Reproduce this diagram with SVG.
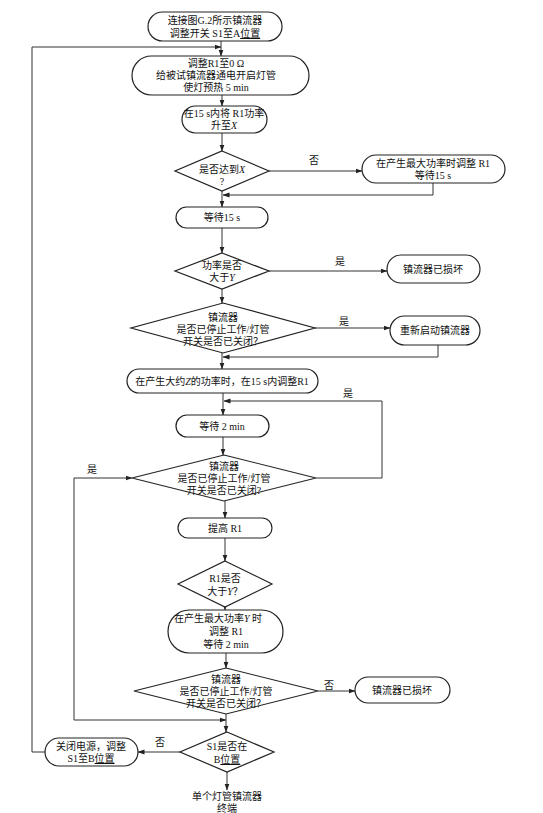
<svg xmlns="http://www.w3.org/2000/svg" width="543" height="813" viewBox="0 0 543 813">
<defs>
<marker id="ah" markerWidth="7" markerHeight="6" refX="6.5" refY="3" orient="auto" markerUnits="userSpaceOnUse">
<path d="M0,0.5 L7,3 L0,5.5 z" fill="#222"/>
</marker>
<style>
.n{fill:#fff;stroke:#222;stroke-width:1.2}
.t{font-family:"Liberation Serif","Noto Sans CJK SC",serif;font-size:10px;fill:#111;text-anchor:middle}
.c{fill:none;stroke:#333;stroke-width:1;marker-end:url(#ah)}
.p{fill:none;stroke:#333;stroke-width:1}
.i{font-style:italic}
.u{text-decoration:underline}
</style>
</defs>
<rect width="543" height="813" fill="#fff"/>
<g id="connectors">
<path class="c" d="M221,41 V56"/>
<path class="c" d="M45,752 H32 V47 H221"/>
<path class="c" d="M222,95 V106"/>
<path class="c" d="M222,133 V151"/>
<path class="c" d="M269,171 H362"/>
<path class="c" d="M433,183 V195 H223"/>
<path class="c" d="M222,191 V207"/>
<path class="c" d="M222,228 V253"/>
<path class="c" d="M269,271 H387"/>
<path class="c" d="M222,289 V303"/>
<path class="c" d="M315,328 H390"/>
<path class="c" d="M438,345 V357 H223"/>
<path class="c" d="M222,353 V369"/>
<path class="c" d="M223,393 V415"/>
<path class="c" d="M316,478 H382 V401 H224"/>
<path class="c" d="M223,437 V455"/>
<path class="c" d="M74,478 H132"/>
<path class="c" d="M74,478 V720 H226"/>
<path class="c" d="M225,501 V518"/>
<path class="c" d="M225,538 V561"/>
<path class="c" d="M225,607 V610"/>
<path class="c" d="M226,653 V668"/>
<path class="c" d="M318,691 H355"/>
<path class="c" d="M226,714 V732"/>
<path class="c" d="M180,752 H138"/>
<path class="c" d="M227,772 V790"/>
<text class="t" x="314" y="164">否</text>
<text class="t" x="340" y="265">是</text>
<text class="t" x="344" y="325">是</text>
<text class="t" x="348" y="397">是</text>
<text class="t" x="92" y="473">是</text>
<text class="t" x="329" y="689">否</text>
<text class="t" x="160" y="746">否</text>
</g>
<g id="n1"><rect class="n" x="148" y="12" width="134" height="29" rx="14.5"/>
<text class="t" x="215" y="24">连接图G.2所示镇流器</text>
<text class="t" x="215" y="37">调整开关 S1至A<tspan class="u">位置</tspan></text></g>
<g id="n2"><rect class="n" x="132" y="56" width="177" height="39" rx="19.5"/>
<text class="t" x="216" y="67">调整R1至0 Ω</text>
<text class="t" x="216" y="79">给被试镇流器通电开启灯管</text>
<text class="t" x="216" y="91">使灯预热 5  min</text></g>
<g id="n3"><rect class="n" x="182" y="106" width="85" height="27" rx="13.5"/>
<text class="t" x="224" y="117">在15 s内将 R1功率</text>
<text class="t" x="224" y="129">升至<tspan class="i">X</tspan></text></g>
<g id="d1"><polygon class="n" points="222,151 269,171 222,191 175,171"/>
<text class="t" x="222" y="173">是否达到<tspan class="i">X</tspan></text>
<text class="t" x="222" y="185">?</text></g>
<g id="n4"><rect class="n" x="362" y="155" width="143" height="28" rx="14"/>
<text class="t" x="433" y="167">在产生最大功率时调整 R1</text>
<text class="t" x="433" y="179">等待15 s</text></g>
<g id="n5"><rect class="n" x="176" y="207" width="92" height="21" rx="10.5"/>
<text class="t" x="222" y="221">等待15 s</text></g>
<g id="d2"><polygon class="n" points="222,253 269,271 222,289 175,271"/>
<text class="t" x="222" y="269">功率是否</text>
<text class="t" x="222" y="281">大于<tspan class="i">Y</tspan></text></g>
<g id="n6"><rect class="n" x="387" y="255" width="93" height="28" rx="14"/>
<text class="t" x="433" y="273">镇流器已损坏</text></g>
<g id="d3"><polygon class="n" points="223,303 315,328 223,353 131,328"/>
<text class="t" x="223" y="321">镇流器</text>
<text class="t" x="223" y="333">是否已停止工作/灯管</text>
<text class="t" x="223" y="345">开关是否已关闭？</text></g>
<g id="n7"><rect class="n" x="390" y="316" width="90" height="29" rx="14.5"/>
<text class="t" x="435" y="334">重新启动镇流器</text></g>
<g id="n8"><rect class="n" x="127" y="369" width="191" height="24" rx="12"/>
<text class="t" x="222" y="385">在产生大约<tspan class="i">Z</tspan>的功率时，在15 s内调整R1</text></g>
<g id="n9"><rect class="n" x="176" y="415" width="93" height="22" rx="11"/>
<text class="t" x="222" y="430">等待 2 min</text></g>
<g id="d4"><polygon class="n" points="224,455 316,478 224,501 132,478"/>
<text class="t" x="224" y="470">镇流器</text>
<text class="t" x="224" y="482">是否已停止工作/灯管</text>
<text class="t" x="224" y="494">开关是否已关闭?</text></g>
<g id="n10"><rect class="n" x="178" y="518" width="94" height="20" rx="10"/>
<text class="t" x="225" y="532">提高 R1</text></g>
<g id="d5"><polygon class="n" points="225,561 272,584 225,607 178,584"/>
<text class="t" x="225" y="582">R1是否</text>
<text class="t" x="225" y="595">大于<tspan class="i">Y</tspan>？</text></g>
<g id="n11"><rect class="n" x="168" y="610" width="115" height="43" rx="21.5"/>
<text class="t" x="218" y="622">在产生最大功率<tspan class="i">Y</tspan> 时</text>
<text class="t" x="226" y="635">调整 R1</text>
<text class="t" x="226" y="648">等待 2 min</text></g>
<g id="d6"><polygon class="n" points="226,668 318,691 226,714 134,691"/>
<text class="t" x="226" y="683">镇流器</text>
<text class="t" x="226" y="695">是否已停止工作/灯管</text>
<text class="t" x="226" y="707">开关是否已关闭？</text></g>
<g id="n12"><rect class="n" x="355" y="677" width="95" height="26" rx="13"/>
<text class="t" x="402" y="694">镇流器已损坏</text></g>
<g id="d7"><polygon class="n" points="227,732 274,752 227,772 180,752"/>
<text class="t" x="227" y="750">S1是否在</text>
<text class="t" x="227" y="763">B<tspan class="u">位置</tspan></text></g>
<g id="n13"><rect class="n" x="45" y="738" width="93" height="28" rx="14"/>
<text class="t" x="91" y="750">关闭电源，调整</text>
<text class="t" x="91" y="762">S1至B<tspan class="u">位置</tspan></text></g>
<g id="n14">
<text class="t" x="227" y="800">单个灯管镇流器</text>
<text class="t" x="227" y="812">终端</text></g>
</svg>
